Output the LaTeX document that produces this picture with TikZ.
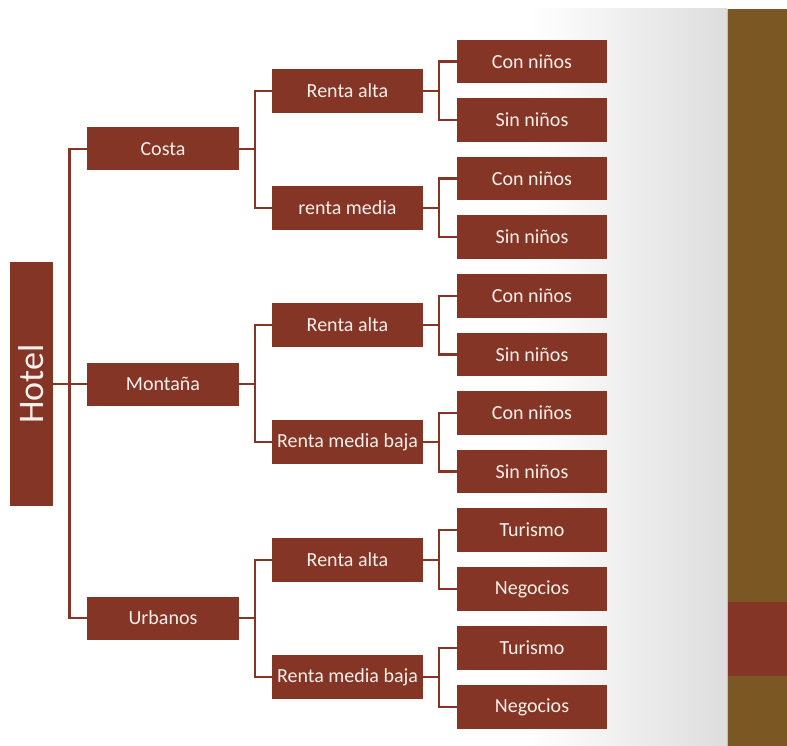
\documentclass[tikz,border=0pt]{standalone}
\usepackage{fontspec}
\setmainfont{Carlito}
\usetikzlibrary{calc}
\definecolor{boxred}{HTML}{843526}
\definecolor{barbrown}{HTML}{7B5823}
\definecolor{boxtext}{HTML}{F7F0EA}
\definecolor{panelgray}{HTML}{DDDDDD}
\tikzset{
  box/.style={fill=boxred, text=boxtext, inner sep=0pt, align=center,
    font=\fontsize{20}{24}\selectfont},
  lvlone/.style={box, minimum width=152, minimum height=43},
  lvltwo/.style={box, minimum width=151, minimum height=44},
  leaf/.style={box, minimum width=150, minimum height=43.5},
  link/.style={draw=boxred, line width=2.8pt}
}
\begin{document}
\begin{tikzpicture}[x=1pt,y=-1pt]
  % page background
  \useasboundingbox (0,0) rectangle (787,746);
  \fill[white] (0,0) rectangle (787,746);
  \shade[left color=white, right color=panelgray] (530,9) rectangle (727,746);
  \fill[black!25] (726.5,9) rectangle (727.5,746);
  \fill[barbrown] (727.5,9) rectangle (787,746);
  \fill[boxred] (727.5,602) rectangle (787,676);

  % root
  \node[box, minimum width=43, minimum height=244] (hotel) at (31.5,384)
    {\rotatebox{90}{\fontsize{36}{40}\selectfont Hotel}};

  % first level
  \node[lvlone] (costa) at (163,149) {Costa};
  \node[lvlone] (montana) at (163,384) {Montaña};
  \node[lvlone] (urbanos) at (163,618) {Urbanos};

  % second level
  \node[lvltwo] (cra) at (347.5,91) {Renta alta};
  \node[lvltwo] (crm) at (347.5,208) {renta media};
  \node[lvltwo] (mra) at (347.5,325) {Renta alta};
  \node[lvltwo] (mrb) at (347.5,442) {Renta media baja};
  \node[lvltwo] (ura) at (347.5,560) {Renta alta};
  \node[lvltwo] (urb) at (347.5,677) {Renta media baja};

  % leaves
  \node[leaf] (l1) at (532,61.5) {Con niños};
  \node[leaf] (l2) at (532,120) {Sin niños};
  \node[leaf] (l3) at (532,178.5) {Con niños};
  \node[leaf] (l4) at (532,237) {Sin niños};
  \node[leaf] (l5) at (532,296) {Con niños};
  \node[leaf] (l6) at (532,354.5) {Sin niños};
  \node[leaf] (l7) at (532,413) {Con niños};
  \node[leaf] (l8) at (532,471.5) {Sin niños};
  \node[leaf] (l9) at (532,530) {Turismo};
  \node[leaf] (l10) at (532,589) {Negocios};
  \node[leaf] (l11) at (532,648) {Turismo};
  \node[leaf] (l12) at (532,707) {Negocios};

  % junction points of the brackets
  \coordinate (h0) at (69.5,384);
  \coordinate (hc) at (255,149);
  \coordinate (hm) at (255,384);
  \coordinate (hu) at (255,618);
  \coordinate (h1) at (439,91);
  \coordinate (h2) at (439,208);
  \coordinate (h3) at (439,325);
  \coordinate (h4) at (439,442);
  \coordinate (h5) at (439,560);
  \coordinate (h6) at (439,677);

  % root bracket
  \draw[link] (hotel.east) -- (montana.west);
  \draw[link] (costa.west) -| (h0) |- (urbanos.west);

  % first-level brackets
  \foreach \p/\h/\a/\b in {costa/hc/cra/crm, montana/hm/mra/mrb, urbanos/hu/ura/urb}{
    \draw[link] (\p.east) -- (\h);
    \draw[link] (\a.west) -| (\h) |- (\b.west);
  }

  % second-level brackets
  \foreach \p/\h/\a/\b in {cra/h1/l1/l2, crm/h2/l3/l4, mra/h3/l5/l6,
                           mrb/h4/l7/l8, ura/h5/l9/l10, urb/h6/l11/l12}{
    \draw[link] (\p.east) -- (\h);
    \draw[link] (\a.west) -| (\h) |- (\b.west);
  }
\end{tikzpicture}
\end{document}
